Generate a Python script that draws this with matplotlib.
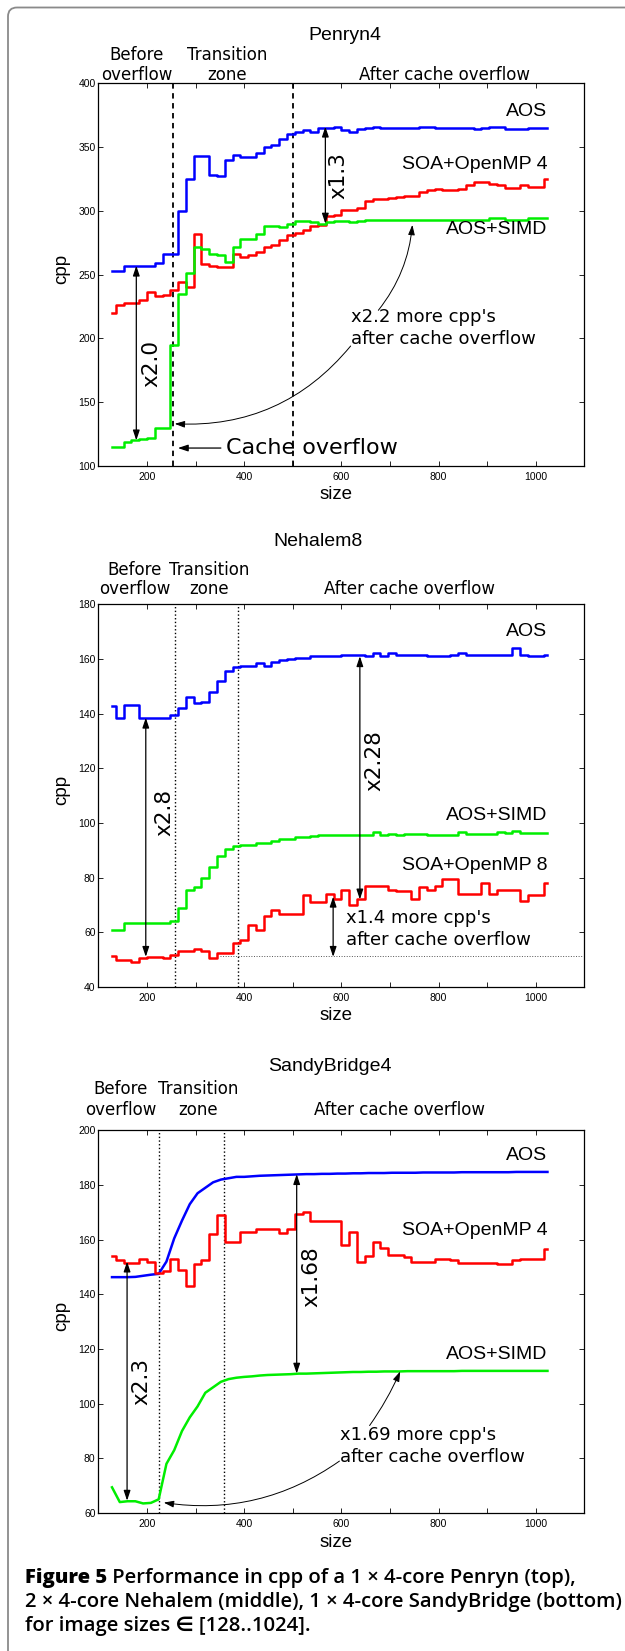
"""Figure 5 — cpp per image size on Penryn4, Nehalem8 and SandyBridge4."""

import matplotlib

matplotlib.use("Agg")  # headless
import matplotlib.pyplot as plt
from matplotlib.patches import FancyBboxPatch
from matplotlib.transforms import IdentityTransform

W, H = 625, 1651
PT = 0.72  # points per pixel at dpi 100

# image sizes, sampled every 16
SIZES = list(range(128, 1025, 16))

PENRYN_AOS = [
    253, 253, 257, 257, 257, 257, 259, 266,
    266, 300, 325, 343, 343, 328, 327, 340,
    344, 342, 342, 345, 350, 352, 356, 360,
    362, 363, 362, 365, 365, 366, 363, 362,
    364, 365, 366, 365, 365, 365, 365, 365,
    366, 366, 365, 365, 365, 365, 365, 364,
    365, 366, 366, 364, 364, 364, 365, 365,
    365,
]
PENRYN_SOA = [
    220, 226, 228, 228, 230, 236, 233, 234,
    238, 244, 240, 282, 258, 257, 256, 256,
    266, 264, 265, 268, 272, 273, 277, 281,
    283, 285, 288, 289, 296, 297, 301, 301,
    302, 308, 309, 309, 310, 311, 312, 312,
    315, 316, 317, 316, 316, 317, 320, 323,
    323, 321, 320, 318, 318, 320, 319, 319,
    325,
]
PENRYN_SIMD = [
    115, 115, 119, 120, 121, 122, 130, 130,
    195, 235, 251, 272, 270, 266, 265, 260,
    272, 278, 278, 282, 288, 288, 287, 290,
    292, 292, 291, 290, 291, 292, 292, 291,
    292, 293, 293, 293, 293, 293, 293, 293,
    293, 293, 293, 293, 293, 293, 293, 293,
    293, 294, 294, 293, 293, 293, 294, 294,
    294,
]

NEHALEM_AOS = [
    142.7, 138.5, 143, 143, 138.5, 138.3, 138.3, 138.5,
    139.5, 142, 146, 144, 144.3, 148, 152, 155.5,
    157, 157.5, 157.5, 158.5, 157.5, 159, 159.5, 160,
    160.5, 160.5, 161, 161, 161, 161.2, 161.3, 161.3,
    161.3, 161.2, 162, 161, 162, 161.3, 161.5, 161.5,
    161.5, 161, 161, 161.2, 161.3, 162, 161.3, 161.5,
    161.3, 161.3, 161.3, 161.5, 164, 161.5, 161, 161.2,
    161.5,
]
NEHALEM_SIMD = [
    60.8, 61, 63.2, 63.2, 63.2, 63.2, 63.2, 63.2,
    64, 69, 75.5, 76.5, 80, 84, 88, 90.5,
    91.5, 92, 92, 92.5, 92.5, 93.5, 94, 94,
    95, 95, 95.3, 95.5, 95.5, 95.6, 95.7, 95.7,
    95.7, 95.7, 96.5, 95.7, 95.8, 95.7, 95.8, 96,
    95.8, 95.5, 95.5, 95.5, 95.5, 96.5, 95.8, 95.8,
    95.8, 96, 96.5, 96.2, 97, 96.2, 96.3, 96.2,
    96.2,
]
NEHALEM_SOA = [
    51.4, 50, 49.8, 49, 50.5, 51, 51, 50.5,
    51.5, 53.2, 53.3, 53.8, 53, 50.5, 52.5, 52.5,
    56, 57, 62.5, 61, 66, 68, 66.5, 66.5,
    66.5, 73.5, 71, 71, 74, 72, 75.5, 70,
    72, 77, 77, 77, 75.5, 75, 75, 72,
    76.5, 75.5, 77, 79.5, 79.5, 74, 74, 74,
    78, 74, 75.5, 75.5, 75.5, 71.5, 73.5, 73.5,
    78,
]

SANDY_AOS = [
    146.3, 146.3, 146.3, 146.4, 146.8, 147.2, 147.5, 152,
    160.5, 167, 173, 177, 179, 181, 182, 182.5,
    183, 183, 183.2, 183.4, 183.5, 183.6, 183.7, 183.8,
    183.9, 184, 184, 184.1, 184.1, 184.2, 184.2, 184.3,
    184.3, 184.4, 184.4, 184.4, 184.5, 184.5, 184.5, 184.5,
    184.6, 184.6, 184.6, 184.6, 184.6, 184.7, 184.7, 184.7,
    184.7, 184.7, 184.7, 184.7, 184.8, 184.8, 184.8, 184.8,
    184.8,
]
SANDY_SOA = [
    154, 152.5, 151.3, 151.3, 153, 152, 147.7, 148.5,
    153, 149, 143, 151, 152.5, 162, 169, 159,
    159, 163, 163, 164, 164, 164, 162.5, 164,
    169.5, 170, 167, 166.7, 166.7, 167, 158, 163,
    152, 154, 159, 157, 154.5, 154.5, 153.5, 152,
    152, 152, 153, 153, 152.5, 151.5, 151.5, 151.5,
    151.5, 151.5, 151, 151, 152.5, 153, 153, 153,
    156.5,
]
SANDY_SIMD = [
    69.4, 64, 64.3, 64.3, 63.5, 63.7, 65, 78,
    83, 90, 95, 99, 104, 106, 108, 109,
    109.5, 109.8, 110, 110.3, 110.5, 110.6, 110.7, 110.8,
    111, 111, 111.1, 111.2, 111.3, 111.4, 111.5, 111.6,
    111.6, 111.7, 111.7, 111.8, 111.8, 111.8, 111.9, 111.9,
    111.9, 111.9, 111.9, 111.9, 111.9, 112, 112, 112,
    112, 112, 112, 112, 112, 112, 112, 112,
    112,
]

BLUE, RED, GREEN = "#0000ff", "#ff0000", "#00ee00"
SANS = ["Liberation Sans", "DejaVu Sans"]
DEJAVU = ["DejaVu Sans"]
CAPTION = ["Open Sans", "DejaVu Sans"]

plt.rcParams["font.family"] = SANS

fig = plt.figure(figsize=(W / 100, H / 100), dpi=100)
fig.patch.set_facecolor("white")

# page frame (rounded box, open to the right and bottom)
frame = FancyBboxPatch((8, -100), 800, H - 7.5 + 100,
                       boxstyle="round,pad=0,rounding_size=9",
                       transform=IdentityTransform(), fill=False,
                       ec="#8a8a8a", lw=1.3)
fig.add_artist(frame)

AX_LEFT, AX_W, AX_H = 98.4, 486.0, 382.6


def make_axes(top, ylim, ystep):
    ax = fig.add_axes([AX_LEFT / W, 1 - (top + AX_H) / H, AX_W / W, AX_H / H])
    ax.set_xlim(100, 1100)
    ax.set_ylim(*ylim)
    ax.set_xticks(range(200, 1001, 200))
    ax.set_xticks(range(100, 1101, 100), minor=True)
    ax.set_yticks(range(ylim[0], ylim[1] + 1, ystep))
    ax.tick_params(which="both", direction="in", top=True, right=True,
                   length=3.5, width=0.6, labelsize=7.5)
    ax.tick_params(axis="x", pad=4.5)
    ax.tick_params(axis="y", pad=2)
    for sp in ax.spines.values():
        sp.set_linewidth(0.9)
    ax.text(-0.0753, 0.516, "cpp", rotation=90, ha="center", va="center",
            fontsize=13.5, transform=ax.transAxes)
    ax.text(0.488, -0.0758, "size", ha="center", va="center",
            fontsize=13.5, transform=ax.transAxes)
    return ax


def title(x_px, base_px, s):
    fig.text(x_px / W, 1 - base_px / H, s, ha="center", va="baseline", fontsize=14)


def zones(ax, items, gap1, gap2):
    for x, l1, l2 in items:
        for s, gap in ((l1, gap1), (l2, gap2)):
            if s:
                ax.annotate(s, xy=(x, 1), xycoords=("data", "axes fraction"),
                            xytext=(0, gap * PT), textcoords="offset points",
                            ha="center", va="baseline", fontsize=12,
                            family=DEJAVU, annotation_clip=False)


def line_labels(ax, labels):
    for s, y in labels:
        ax.text(1024, y, s, ha="right", va="center", fontsize=14)


def ratio(ax, s, tx, ty, ax_x, y0, y1):
    ax.text(tx, ty, s, rotation=90, ha="center", va="center",
            fontsize=15.5, family=DEJAVU)
    ax.annotate("", xy=(ax_x, y1), xytext=(ax_x, y0),
                arrowprops=dict(arrowstyle="<|-|>,head_length=0.6,head_width=0.2",
                                color="black", lw=0.9, shrinkA=0, shrinkB=0,
                                mutation_scale=10))


def curved(ax, tail, head, rad):
    ax.annotate("", xy=head, xytext=tail,
                arrowprops=dict(arrowstyle="-|>,head_length=0.6,head_width=0.2",
                                color="black", lw=0.7, shrinkA=0, shrinkB=0,
                                connectionstyle=f"arc3,rad={rad}",
                                mutation_scale=10))


def note(ax, x, y, s):
    ax.text(x, y, s, ha="left", va="center", fontsize=13, family=DEJAVU,
            linespacing=1.3)


def series(ax, values, color, steps=True):
    ax.plot(SIZES, values, color=color, lw=1.8,
            drawstyle="steps-mid" if steps else "default")


# ---- Penryn4 ----
ax1 = make_axes(83.3, (100, 400), 50)
title(344.8, 39.5, "Penryn4")
zones(ax1, [(179.5, "Before", "overflow"), (364, "Transition", "zone"),
            (812, None, "After cache overflow")], 23, 3)
for xv in (254, 500):
    ax1.axvline(xv, color="black", lw=1.3, ls=(0, (3, 2.5)))
series(ax1, PENRYN_AOS, BLUE)
series(ax1, PENRYN_SOA, RED)
series(ax1, PENRYN_SIMD, GREEN)
line_labels(ax1, [("AOS", 378), ("SOA+OpenMP 4", 336.5), ("AOS+SIMD", 285)])
ratio(ax1, "x2.0", 208, 180, 178, 257, 120)
ratio(ax1, "x1.3", 594, 328, 567, 366, 290)
note(ax1, 620, 208, "x2.2 more cpp's\nafter cache overflow")
curved(ax1, (676, 222), (746, 289), 0.15)
curved(ax1, (619, 194), (257, 133), -0.25)
ax1.text(362, 114, "Cache overflow", ha="left", va="center", fontsize=16,
         family=DEJAVU)
ax1.annotate("", xy=(263.5, 114), xytext=(352, 114),
             arrowprops=dict(arrowstyle="-|>,head_length=0.6,head_width=0.2",
                             color="black", lw=0.9, shrinkA=0, shrinkB=0,
                             mutation_scale=10))

# ---- Nehalem8 ----
ax2 = make_axes(604.3, (40, 180), 20)
title(317.7, 546, "Nehalem8")
zones(ax2, [(174.5, "Before", "overflow"), (328, "Transition", "zone"),
            (740.7, None, "After cache overflow")], 29.5, 10)
for xv in (258, 388):
    ax2.axvline(xv, color="black", lw=1.0, ls=":")
ax2.hlines(51.2, 350, 1095, color="#555555", lw=0.7, ls=":")
series(ax2, NEHALEM_AOS, BLUE)
series(ax2, NEHALEM_SIMD, GREEN)
series(ax2, NEHALEM_SOA, RED)
line_labels(ax2, [("AOS", 170), ("AOS+SIMD", 102.7), ("SOA+OpenMP 8", 84.4)])
ratio(ax2, "x2.8", 236, 103.7, 197.5, 138.5, 51)
ratio(ax2, "x2.28", 667, 123, 638, 161, 72)
note(ax2, 609, 61.2, "x1.4 more cpp's\nafter cache overflow")
ax2.annotate("", xy=(583, 51), xytext=(583, 73),
             arrowprops=dict(arrowstyle="<|-|>,head_length=0.6,head_width=0.2",
                             color="black", lw=0.9, shrinkA=0, shrinkB=0,
                             mutation_scale=10))

# ---- SandyBridge4 ----
ax3 = make_axes(1130.4, (60, 200), 20)
title(329.6, 1070.5, "SandyBridge4")
zones(ax3, [(146.5, "Before", "overflow"), (306, "Transition", "zone"),
            (720, None, "After cache overflow")], 36, 15.6)
for xv in (224, 359):
    ax3.axvline(xv, color="black", lw=1.0, ls=":")
series(ax3, SANDY_AOS, BLUE, steps=False)
series(ax3, SANDY_SOA, RED)
series(ax3, SANDY_SIMD, GREEN, steps=False)
line_labels(ax3, [("AOS", 190.7), ("SOA+OpenMP 4", 163.2), ("AOS+SIMD", 117.9)])
ratio(ax3, "x2.3", 189, 108.3, 159, 152, 64.5)
ratio(ax3, "x1.68", 539, 146.5, 508, 184, 111)
note(ax3, 598, 84.5, "x1.69 more cpp's\nafter cache overflow")
curved(ax3, (658, 92), (721, 111.8), 0.05)
curved(ax3, (596, 79), (234.5, 63.8), -0.2)

# ---- caption ----
overlay = fig.add_axes([0, 0, 1, 1])
overlay.axis("off")
overlay.set_zorder(-1)
CAP_SIZE = 14.6
head = fig.text(24.7 / W, 1 - 1583 / H, "Figure 5", fontsize=CAP_SIZE,
                weight="heavy", family=CAPTION, va="baseline")
overlay.annotate(" Performance in cpp of a 1 \u00d7 4-core Penryn (top),",
                 xy=(1, 0), xycoords=head, va="bottom", ha="left",
                 fontsize=CAP_SIZE, weight="semibold", family=CAPTION)
fig.text(24.7 / W, 1 - 1607 / H,
         "2 \u00d7 4-core Nehalem (middle), 1 \u00d7 4-core SandyBridge (bottom)",
         fontsize=CAP_SIZE, weight="semibold", family=CAPTION, va="baseline")
fig.text(24.7 / W, 1 - 1631 / H, "for image sizes \u2208 [128..1024].",
         fontsize=CAP_SIZE, weight="semibold", family=CAPTION, va="baseline")

fig.savefig("out.png", dpi=100)
